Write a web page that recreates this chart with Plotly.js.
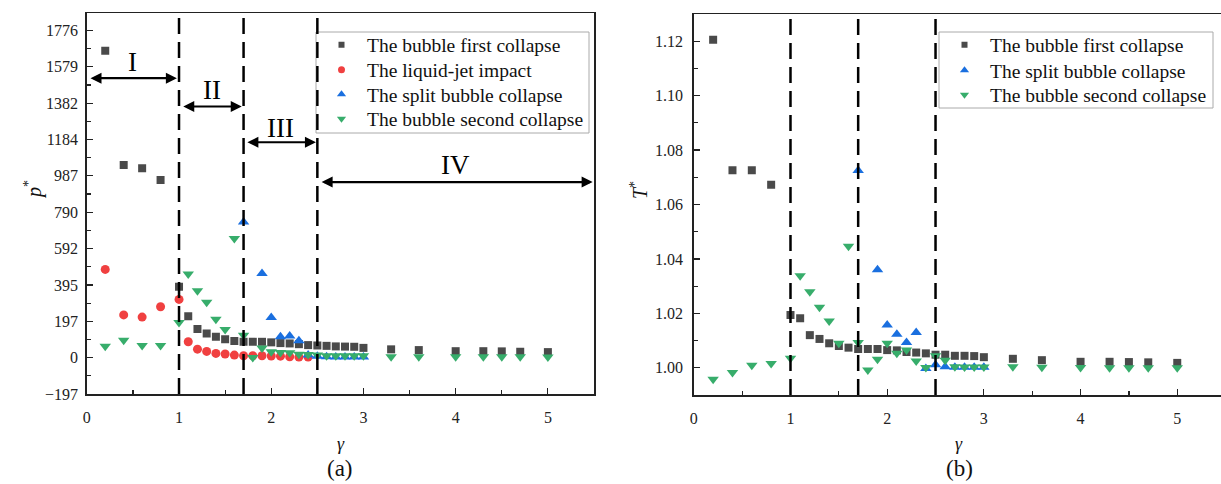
<!DOCTYPE html>
<html>
<head>
<meta charset="utf-8">
<script src="https://cdn.plot.ly/plotly-3.0.1.min.js"></script>
<style>
  html, body { margin: 0; padding: 0; overflow: hidden; background: #fff; }
  #chart { width: 1230px; height: 484px; }
</style>
</head>
<body>
<div id="chart"></div>
<script>
// Gas-content ratio gamma
const gammaFirst  = [0.2,0.4,0.6,0.8,1.0,1.1,1.2,1.3,1.4,1.5,1.6,1.7,1.8,1.9,2.0,2.1,2.2,2.3,2.4,2.5,2.6,2.7,2.8,2.9,3.0,3.3,3.6,4.0,4.3,4.5,4.7,5.0];
const gammaJet    = [0.2,0.4,0.6,0.8,1.0,1.1,1.2,1.3,1.4,1.5,1.6,1.7,1.8,1.9,2.0,2.1,2.2,2.3,2.4];
const gammaSplit  = [1.7,1.9,2.0,2.1,2.2,2.3,2.4,2.5,2.6,2.7,2.8,2.9,3.0];
const gammaSecond = [0.2,0.4,0.6,0.8,1.0,1.1,1.2,1.3,1.4,1.5,1.6,1.7,1.8,1.9,2.0,2.1,2.2,2.3,2.4,2.5,2.6,2.7,2.8,2.9,3.0,3.3,3.6,4.0,4.3,4.5,4.7,5.0];

// (a) dimensionless pressure p*
const pFirst  = [1665,1045,1028,964,385,225,155,131,113,100,90,86,86,86,83,79,77,73,68,66,64,61,60,59,53,45,41,35,35,34,32,30];
const pJet    = [479,232,220,276,316,86,46,34,23,20,14,10,10,10,9,8,5,3,3];
const pSplit  = [736,457,218,113,118,91,15,8,5,4,4,4,3];
const pSecond = [62,95,66,66,191,454,363,300,209,153,647,122,1,53,32,28,26,19,17,14,10,10,10,10,10,5,5,5,5,5,5,3];

// (b) dimensionless temperature T*
const tFirst  = [1.1205,1.0726,1.0726,1.0673,1.0194,1.0182,1.0120,1.0106,1.0090,1.0080,1.0074,1.0069,1.0069,1.0069,1.0065,1.0064,1.0058,1.0056,1.0053,1.0048,1.0048,1.0044,1.0044,1.0043,1.0039,1.0033,1.0028,1.0022,1.0022,1.0021,1.0020,1.0018];
const tSplit  = [1.0725,1.0360,1.0157,1.0123,1.0093,1.0130,0.9997,1.0011,1.0004,1.0002,1.0002,1.0002,1.0002];
const tSecond = [0.9958,0.9983,1.0009,1.0016,1.0035,1.0338,1.0279,1.0222,1.0172,1.0090,1.0447,1.0093,0.9992,1.0031,1.0090,1.0053,1.0065,1.0025,1.0001,1.0044,1.0028,1.0004,1.0003,1.0003,1.0003,1.0004,1.0002,1.0001,1.0000,1.0000,1.0000,1.0000];

// Series names
const nameFirst  = 'The bubble first collapse';
const nameJet    = 'The liquid-jet impact';
const nameSplit  = 'The split bubble collapse';
const nameSecond = 'The bubble second collapse';

// Left-axis tick labels (steps of 1776/9)
const pStep = 1776 / 9;
const pTickText = ['\u2212197','0','197','395','592','790','987','1184','1382','1579','1776'];
const pTickVals = pTickText.map((_, i) => (i - 1) * pStep);

// Regime boundaries and labels
const boundaries = [1.0, 1.7, 2.5];
const regimes = [
  { label: 'I',   from: 0.024, to: 0.977, yArrow: 1517, xLabel: 0.5,  yLabel: 1605 },
  { label: 'II',  from: 1.03,  to: 1.68,  yArrow: 1363, xLabel: 1.36, yLabel: 1453 },
  { label: 'III', from: 1.725, to: 2.485, yArrow: 1169, xLabel: 2.1,  yLabel: 1247 },
  { label: 'IV',  from: 2.53,  to: 5.485, yArrow: 953,  xLabel: 4.0,  yLabel: 1046 }
];

const W = 1230, H = 484;
const COL = { first: '#4a4a4a', jet: '#f04040', split: '#1a6fdf', second: '#37ad6b' };
const SERIF = 'Liberation Serif, Times New Roman, serif';

function pts(x, y, ax, color, symbol, size) {
  return {
    x: x, y: y, xaxis: ax[0], yaxis: ax[1], type: 'scatter', mode: 'markers',
    showlegend: false, hoverinfo: 'x+y',
    marker: { color: color, symbol: symbol, size: size, line: { width: 0 } }
  };
}
// One legend per key so the rows can sit at their own heights
function key(name, color, symbol, size, legend) {
  return {
    x: [null], y: [null], type: 'scatter', mode: 'markers', name: name,
    legend: legend, showlegend: true,
    marker: { color: color, symbol: symbol, size: size, line: { width: 0 } }
  };
}

const A = ['x', 'y'], B = ['x2', 'y2'];
const data = [
  pts(gammaFirst,  pFirst,  A, COL.first,  'square', 8),
  pts(gammaJet,    pJet,    A, COL.jet,    'circle', 9),
  pts(gammaSplit,  pSplit,  A, COL.split,  'triangle-up', 10),
  pts(gammaSecond, pSecond, A, COL.second, 'triangle-down', 10),
  pts(gammaFirst,  tFirst,  B, COL.first,  'square', 8),
  pts(gammaSplit,  tSplit,  B, COL.split,  'triangle-up', 10),
  pts(gammaSecond, tSecond, B, COL.second, 'triangle-down', 10),
  key(nameFirst,  COL.first,  'square', 6, 'legend'),
  key(nameJet,    COL.jet,    'circle', 7, 'legend2'),
  key(nameSplit,  COL.split,  'triangle-up', 8, 'legend3'),
  key(nameSecond, COL.second, 'triangle-down', 8, 'legend4'),
  key(nameFirst,  COL.first,  'square', 6, 'legend5'),
  key(nameSplit,  COL.split,  'triangle-up', 8, 'legend6'),
  key(nameSecond, COL.second, 'triangle-down', 8, 'legend7')
];

const axisBase = {
  showline: true, linecolor: '#222', linewidth: 1.5, mirror: true,
  ticks: 'inside', ticklen: 6, tickwidth: 1.2, tickcolor: '#222',
  showgrid: false, zeroline: false,
  tickfont: { family: SERIF, size: 16, color: '#222' }
};

// Legend frames (drawn first so the dashed boundaries stay on top)
const shapes = [
  { type: 'rect', xref: 'paper', yref: 'paper', x0: 316 / W, x1: 589 / W, y0: 1 - 133 / H, y1: 1 - 32 / H,
    line: { color: '#aaa', width: 1 }, fillcolor: '#fff', layer: 'below' },
  { type: 'rect', xref: 'paper', yref: 'paper', x0: 939 / W, x1: 1213 / W, y0: 1 - 108 / H, y1: 1 - 32 / H,
    line: { color: '#aaa', width: 1 }, fillcolor: '#fff', layer: 'below' }
];
boundaries.forEach(b => {
  [['x', 'y domain'], ['x2', 'y2 domain']].forEach(r => {
    shapes.push({
      type: 'line', xref: r[0], yref: r[1], x0: b, x1: b, y0: 0, y1: 1,
      line: { color: '#000', width: 2.5, dash: '16px,8px' }
    });
  });
});

const annotations = [];
regimes.forEach(r => {
  annotations.push({
    xref: 'x', yref: 'y', axref: 'x', ayref: 'y',
    x: r.to, y: r.yArrow, ax: r.from, ay: r.yArrow, text: '',
    showarrow: true, arrowside: 'end+start', arrowhead: 2, startarrowhead: 2,
    arrowsize: 1, startarrowsize: 1, arrowwidth: 2.2, arrowcolor: '#000',
    standoff: 0, startstandoff: 0
  });
  annotations.push({
    xref: 'x', yref: 'y', x: r.xLabel, y: r.yLabel, text: r.label,
    showarrow: false, font: { family: SERIF, size: 27, color: '#000' }
  });
});

function paperText(text, xpx, ypx, size, angle) {
  return {
    xref: 'paper', yref: 'paper', x: xpx / W, y: 1 - ypx / H,
    xanchor: 'center', yanchor: 'middle', text: text, showarrow: false,
    textangle: angle || 0, font: { family: SERIF, size: size, color: '#111' }
  };
}
annotations.push(paperText('<i>p</i><sup>*</sup>', 33, 190, 20, -90));
annotations.push(paperText('<i>T</i><sup>*</sup>', 639, 190, 20, -90));
annotations.push(paperText('<i>\u03b3</i>', 341, 444, 18));
annotations.push(paperText('<i>\u03b3</i>', 959, 444, 18));
annotations.push(paperText('(a)', 340, 468, 23));
annotations.push(paperText('(b)', 959, 468, 23));

function legendRow(xpx, ypx) {
  return {
    x: xpx / W, y: 1 - ypx / H, xanchor: 'left', yanchor: 'middle',
    bgcolor: 'rgba(0,0,0,0)', borderwidth: 0, itemwidth: 41,
    font: { family: SERIF, size: 19.5, color: '#111' }
  };
}

const layout = {
  width: W, height: H,
  margin: { l: 0, r: 0, t: 0, b: 0 },
  paper_bgcolor: '#fff', plot_bgcolor: '#fff',
  showlegend: true,
  xaxis: Object.assign({}, axisBase, {
    domain: [86.8 / W, 594 / W], range: [0, 5.5],
    tickmode: 'linear', tick0: 0, dtick: 1, ticklabelstandoff: 8,
    minor: { tickmode: 'linear', tick0: 0, dtick: 0.5, ticks: 'inside', ticklen: 4, tickcolor: '#222' }
  }),
  yaxis: Object.assign({}, axisBase, {
    domain: [1 - 394 / H, 1 - 13 / H], range: [-pStep, 1870.5],
    tickmode: 'array', tickvals: pTickVals, ticktext: pTickText, ticklabelstandoff: 4,
    minor: { tickmode: 'linear', tick0: 0, dtick: pStep / 2, ticks: 'inside', ticklen: 4, tickcolor: '#222' }
  }),
  xaxis2: Object.assign({}, axisBase, {
    anchor: 'y2', domain: [693.8 / W, 1225.6 / W], range: [0, 5.5],
    tickmode: 'linear', tick0: 0, dtick: 1, ticklabelstandoff: 8,
    minor: { tickmode: 'linear', tick0: 0, dtick: 0.5, ticks: 'inside', ticklen: 4, tickcolor: '#222' }
  }),
  yaxis2: Object.assign({}, axisBase, {
    anchor: 'x2', domain: [1 - 395 / H, 1 - 14 / H], range: [0.99, 1.13],
    tickmode: 'linear', tick0: 1.0, dtick: 0.02, tickformat: '.2f', ticklabelstandoff: 6,
    minor: { tickmode: 'linear', tick0: 1.0, dtick: 0.01, ticks: 'inside', ticklen: 4, tickcolor: '#222' }
  }),
  legend:  legendRow(316, 45),
  legend2: legendRow(316, 70),
  legend3: legendRow(316, 94.5),
  legend4: legendRow(316, 119),
  legend5: legendRow(939, 45),
  legend6: legendRow(939, 70.5),
  legend7: legendRow(939, 95),
  shapes: shapes,
  annotations: annotations
};

Plotly.newPlot('chart', data, layout, { staticPlot: true, displayModeBar: false });
</script>
</body>
</html>
